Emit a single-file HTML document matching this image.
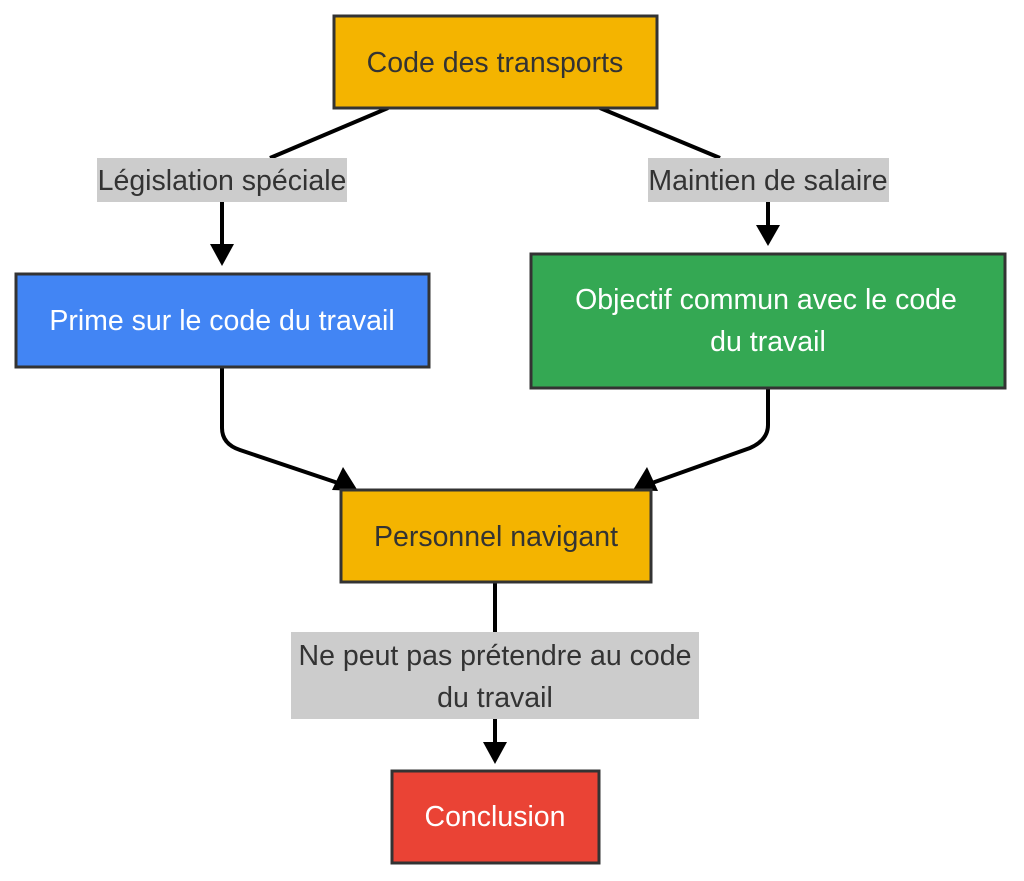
<!DOCTYPE html>
<html><head><meta charset="utf-8"><style>
html,body{margin:0;padding:0;background:#fff;}
svg{display:block;}
text{font-family:"Liberation Sans",sans-serif;font-size:28.5px;}
</style></head><body>
<svg width="1024" height="881" viewBox="0 0 1024 881">
<g stroke="#000" stroke-width="4" fill="none">
<path d="M388,108 L270,158"/>
<path d="M222,202 L222,248"/>
<path d="M600,108 L720,158"/>
<path d="M768,202 L768,228"/>
<path d="M222,367 L222,428 Q222,444 240,450 L338,483"/>
<path d="M768,388 L768,425 Q768,440 750,448 L652,483"/>
<path d="M495,582 L495,632"/>
<path d="M495,719 L495,746"/>
</g>
<g fill="#000">
<path d="M210,244 L234,244 L222,266 z"/>
<path d="M756,225 L780,225 L768,246 z"/>
<path d="M332,490 L358,491 L343,467 z"/>
<path d="M633,490 L658,491 L647,467 z"/>
<path d="M483,742 L507,742 L495,764 z"/>
</g>
<rect x="97" y="158" width="250" height="44" fill="#cccccc"/>
<text x="222" y="190" text-anchor="middle" fill="#333">Législation spéciale</text>
<rect x="648" y="158" width="241" height="44" fill="#cccccc"/>
<text x="768" y="190" text-anchor="middle" fill="#333">Maintien de salaire</text>
<rect x="291" y="632" width="408" height="87" fill="#cccccc"/>
<text x="495" y="665" text-anchor="middle" fill="#333">Ne peut pas prétendre au code</text>
<text x="495" y="707" text-anchor="middle" fill="#333">du travail</text>
<g stroke="#333" stroke-width="3">
<rect x="334" y="16" width="323" height="92" fill="#F4B400"/>
<rect x="16" y="274" width="413" height="93" fill="#4285F4"/>
<rect x="531" y="254" width="474" height="134" fill="#34A853"/>
<rect x="341" y="490" width="310" height="92" fill="#F4B400"/>
<rect x="392" y="771" width="207" height="92" fill="#EA4335"/>
</g>
<text x="495" y="72" text-anchor="middle" fill="#333">Code des transports</text>
<text x="222" y="330" text-anchor="middle" fill="#fff">Prime sur le code du travail</text>
<text x="766" y="309" text-anchor="middle" fill="#fff">Objectif commun avec le code</text>
<text x="768" y="351" text-anchor="middle" fill="#fff">du travail</text>
<text x="496" y="546" text-anchor="middle" fill="#333">Personnel navigant</text>
<text x="495" y="826" text-anchor="middle" fill="#fff">Conclusion</text>
</svg>
</body></html>
